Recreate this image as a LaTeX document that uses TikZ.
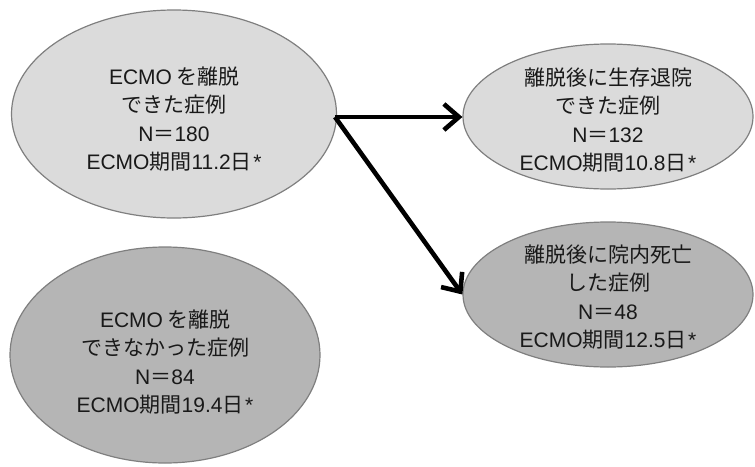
\documentclass[tikz,border=0pt]{standalone}
\usepackage{fontspec}
\setmainfont{Noto Sans CJK JP}
\newfontfamily\lat{Liberation Sans}
\usetikzlibrary{shapes.geometric,arrows.meta}
\definecolor{lightfill}{HTML}{DBDBDB}
\definecolor{darkfill}{HTML}{B5B5B5}
\definecolor{edgegray}{HTML}{7F7F7F}
\newcommand{\eq}[1]{{\lat N}＝{\lat #1}}
\newcommand{\dur}[1]{{\lat ECMO}期間{\lat #1}日{\lat\hspace{1.5pt}*}}
\tikzset{
  blob/.style={ellipse, draw=edgegray, line width=1.2pt, inner sep=0pt},
  label text/.style={align=center, inner sep=0pt, font=\fontsize{21}{28.5}\selectfont, text=black!90},
  flow/.style={line width=4.6pt, -{Straight Barb[length=15pt,width=26pt]}}
}
\begin{document}
\begin{tikzpicture}[x=1pt,y=-1pt]
\useasboundingbox (0,0) rectangle (755,466);
\node[blob, fill=lightfill, minimum width=325pt, minimum height=208pt] (a) at (174,114) {};
\node[blob, fill=lightfill, minimum width=290pt, minimum height=145pt] (b) at (608,116.5) {};
\node[blob, fill=darkfill, minimum width=290pt, minimum height=145pt] (c) at (608,294.5) {};
\node[blob, fill=darkfill, minimum width=310pt, minimum height=216pt] (d) at (165,355) {};
\node[label text] (at) at ([yshift=-5pt]a.center)
  {{\lat ECMO}\hspace{4pt}を離脱\\できた症例\\\eq{180}\\\dur{11.2}};
\node[label text] (bt) at ([yshift=-3.5pt]b.center)
  {離脱後に生存退院\\できた症例\\\eq{132}\\\dur{10.8}};
\node[label text] (ct) at ([yshift=-2.5pt]c.center)
  {離脱後に院内死亡\\した症例\\\eq{48}\\\dur{12.5}};
\node[label text] (dt) at ([yshift=-7pt]d.center)
  {{\lat ECMO}\hspace{4pt}を離脱\\できなかった症例\\\eq{84}\\\dur{19.4}};
\coordinate (s) at (335,117);
\draw[flow] (s) -- (s -| b.west);
\draw[flow] (s) -- (c.west);
\end{tikzpicture}
\end{document}
